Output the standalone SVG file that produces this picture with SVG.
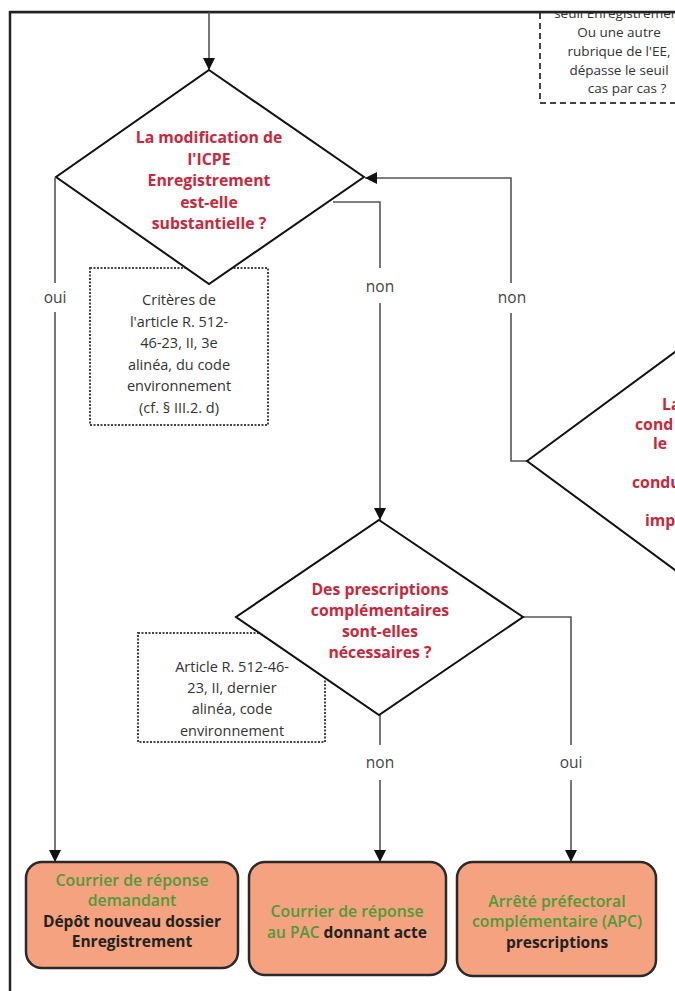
<svg xmlns="http://www.w3.org/2000/svg" width="675" height="991" viewBox="0 0 675 991">
<style>
.q{font-family:"Open Sans","Noto Sans",sans-serif;font-weight:700;font-size:15.8px;fill:#c8283c;text-anchor:middle}
.n{font-family:"Open Sans","Noto Sans",sans-serif;font-size:14.5px;fill:#333;text-anchor:middle}
.t{font-family:"Open Sans","Noto Sans",sans-serif;font-size:13.5px;fill:#333;text-anchor:middle}
.lbl{font-family:"Open Sans","Noto Sans",sans-serif;font-size:15.5px;fill:#444;text-anchor:middle}
.g{font-family:"Open Sans","Noto Sans",sans-serif;font-weight:600;font-size:15.8px;fill:#4f9a3a;text-anchor:middle}
.b{font-family:"Open Sans","Noto Sans",sans-serif;font-weight:700;font-size:15.5px;fill:#222;text-anchor:middle}
.dia{fill:#fff;stroke:#111;stroke-width:2}
.dot{fill:none;stroke:#444;stroke-width:2;stroke-dasharray:2 1.5}
.dash{fill:none;stroke:#444;stroke-width:2;stroke-dasharray:6 4}
.res{fill:#f4a27f;stroke:#2a2a2a;stroke-width:2.5}
.c{fill:none;stroke:#555;stroke-width:1.6}
</style>
<defs>
<marker id="ah" markerUnits="userSpaceOnUse" markerWidth="12" markerHeight="12" viewBox="0 0 12 12" refX="12" refY="6" orient="auto">
<path d="M0,0 L12,6 L0,12 Z" fill="#111"/>
</marker>
</defs>
<rect width="675" height="991" fill="#fff"/>

<g id="frame">
<path d="M10,991 V12 H675" fill="none" stroke="#222" stroke-width="2.5"/>
</g>

<g id="note-top">
<path class="dash" d="M540,13 V103 H675"/>
<text class="t" x="619" y="18">seuil Enregistrement</text>
<text class="t" x="619" y="37">Ou une autre</text>
<text class="t" x="619" y="56">rubrique de l'EE,</text>
<text class="t" x="619" y="75">dépasse le seuil</text>
<text class="t" x="627" y="93">cas par cas ?</text>
</g>
<rect x="0" y="0" width="675" height="11" fill="#fff"/>
<path d="M10,12 H675" stroke="#222" stroke-width="2.5"/>

<g id="note-criteres">
<rect class="dot" x="90" y="268" width="178" height="157"/>
<text class="n" x="179" y="305">Critères de</text>
<text class="n" x="179" y="327">l'article R. 512-</text>
<text class="n" x="179" y="348">46-23, II, 3e</text>
<text class="n" x="179" y="370">alinéa, du code</text>
<text class="n" x="179" y="391">environnement</text>
<text class="n" x="179" y="413">(cf. § III.2. d)</text>
</g>

<g id="note-article">
<rect class="dot" x="138" y="633" width="187" height="109"/>
<text class="n" x="232" y="672">Article R. 512-46-</text>
<text class="n" x="232" y="693">23, II, dernier</text>
<text class="n" x="232" y="714">alinéa, code</text>
<text class="n" x="232" y="736">environnement</text>
</g>

<g id="connectors">
<path class="c" d="M209,12 V70" marker-end="url(#ah)"/>
<path class="c" d="M55,178 V283"/>
<path class="c" d="M55,312 V862" marker-end="url(#ah)"/>
<path class="c" d="M333,202 H380 V268"/>
<path class="c" d="M380,303 V520" marker-end="url(#ah)"/>
<path class="c" d="M527,461 H511 V313"/>
<path class="c" d="M511,283 V178 H365" marker-end="url(#ah)"/>
<path class="c" d="M380,715 V745"/>
<path class="c" d="M380,780 V862" marker-end="url(#ah)"/>
<path class="c" d="M523,617 H571 V745"/>
<path class="c" d="M571,780 V862" marker-end="url(#ah)"/>
<text class="lbl" x="55" y="303">oui</text>
<text class="lbl" x="380" y="292">non</text>
<text class="lbl" x="512" y="303">non</text>
<text class="lbl" x="380" y="768">non</text>
<text class="lbl" x="571" y="768">oui</text>
</g>

<g id="d1">
<polygon class="dia" points="209,70 364,177 209,284 56,177"/>
<text class="q" x="209" y="143">La modification de</text>
<text class="q" x="209" y="165">l'ICPE</text>
<text class="q" x="209" y="186">Enregistrement</text>
<text class="q" x="209" y="208">est-elle</text>
<text class="q" x="209" y="229">substantielle ?</text>
</g>

<g id="d2">
<polygon class="dia" points="379,520 523,617 379,715 236,617"/>
<text class="q" x="380" y="595">Des prescriptions</text>
<text class="q" x="380" y="616">complémentaires</text>
<text class="q" x="380" y="637">sont-elles</text>
<text class="q" x="380" y="658">nécessaires ?</text>
</g>

<g id="d3">
<polygon class="dia" points="527,461 690,341 690,581"/>
<text class="q" x="662" y="410" style="text-anchor:start">La</text>
<text class="q" x="635" y="430" style="text-anchor:start">cond</text>
<text class="q" x="653" y="449" style="text-anchor:start">le</text>
<text class="q" x="632" y="488" style="text-anchor:start">condu</text>
<text class="q" x="645" y="526" style="text-anchor:start">imp</text>
</g>

<g id="r1">
<rect class="res" x="26" y="862" width="212" height="106" rx="16"/>
<text class="g" x="132" y="886">Courrier de réponse</text>
<text class="g" x="132" y="906">demandant</text>
<text class="b" x="132" y="927">Dépôt nouveau dossier</text>
<text class="b" x="132" y="947">Enregistrement</text>
</g>

<g id="r2">
<rect class="res" x="249" y="862" width="197" height="113" rx="16"/>
<text class="g" x="347" y="917">Courrier de réponse</text>
<text x="347" y="938" style="font-family:'Open Sans','Noto Sans',sans-serif;font-size:15.5px;text-anchor:middle"><tspan fill="#4f9a3a" font-weight="600">au PAC</tspan><tspan fill="#222" font-weight="700"> donnant acte</tspan></text>
</g>

<g id="r3">
<rect class="res" x="457" y="862" width="199" height="114" rx="16"/>
<text class="g" x="557" y="907">Arrêté préfectoral</text>
<text class="g" x="557" y="927">complémentaire (APC)</text>
<text class="b" x="557" y="948">prescriptions</text>
</g>
</svg>
